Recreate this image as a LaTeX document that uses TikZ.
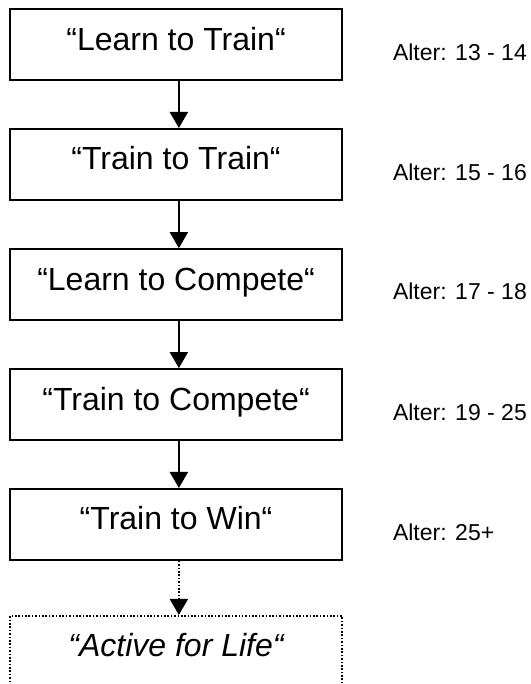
\documentclass[tikz,border=0pt]{standalone}
\usepackage{fontspec}
\setmainfont{Liberation Sans}
\usetikzlibrary{arrows.meta}
\tikzset{
  stage/.style={draw,line width=2pt,minimum width=11.71cm,minimum height=2.5cm,inner sep=0pt,
    text height=22bp,text depth=11bp,font=\fontsize{32bp}{38bp}\selectfont},
  age/.style={anchor=base west,inner sep=0pt,font=\fontsize{23bp}{28bp}\selectfont},
  dots/.style={dash pattern=on 1.6pt off 1.8pt}
}
\begin{document}
\begin{tikzpicture}[>={Triangle[width=18bp,length=16bp]},line width=2pt]
\useasboundingbox (0,0) rectangle (18.73,-24.13);
% stages
\node[stage] (ltt) at (6.21,-1.57) {“Learn to Train“};
\node[stage] (ttt) at (6.21,-5.80) {“Train to Train“};
\node[stage] (ltc) at (6.21,-10.04) {“Learn to Compete“};
\node[stage] (ttc) at (6.21,-14.27) {“Train to Compete“};
\node[stage] (ttw) at (6.21,-18.50) {“Train to Win“};
\node[stage,dots] (afl) at (6.21,-22.98) {\itshape “Active for Life“};
% ages
\node[age] (a1) at (13.83,-2.12) {Alter: 13 - 14};
\node[age] (a2) at (13.83,-6.35) {Alter: 15 - 16};
\node[age] (a3) at (13.83,-10.58) {Alter: 17 - 18};
\node[age] (a4) at (13.83,-14.82) {Alter: 19 - 25};
\node[age] (a5) at (13.83,-19.05) {Alter: 25+};
% arrows
\draw[->] ([xshift=0.1cm]ltt.south) -- ([xshift=0.1cm]ttt.north);
\draw[->] ([xshift=0.1cm]ttt.south) -- ([xshift=0.1cm]ltc.north);
\draw[->] ([xshift=0.1cm]ltc.south) -- ([xshift=0.1cm]ttc.north);
\draw[->] ([xshift=0.1cm]ttc.south) -- ([xshift=0.1cm]ttw.north);
\draw[->,dots] ([xshift=0.1cm]ttw.south) -- ([xshift=0.1cm]afl.north);
\end{tikzpicture}
\end{document}
